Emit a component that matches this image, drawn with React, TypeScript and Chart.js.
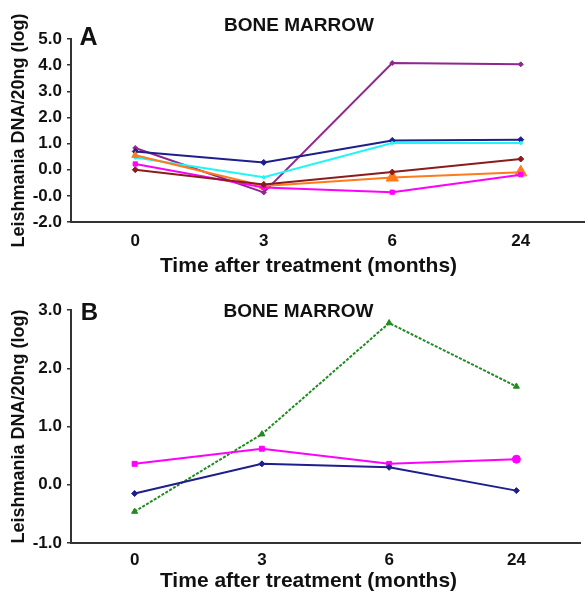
import React, { useEffect, useRef } from "react";
import { Chart, registerables } from "chart.js";

Chart.register(...registerables);

const categories = ["0", "3", "6", "24"];

// Panel A series
const purpleA = [0.83, -0.87, 4.08, 4.03];
const navyA = [0.7, 0.28, 1.12, 1.15];
const cyanA = [0.47, -0.29, 1.02, 1.02];
const brownA = [0.0, -0.57, -0.09, 0.41];
const orangeA = [0.55, -0.62, -0.3, -0.1];
const magentaA = [0.22, -0.68, -0.86, -0.19];

// Panel B series
const greenB = [-0.46, 0.87, 2.78, 1.69];
const magentaB = [0.36, 0.62, 0.36, 0.44];
const navyB = [-0.15, 0.36, 0.3, -0.1];

const yTickLabelsA = ["-2.0", "-0.0", "0.0", "1.0", "2.0", "3.0", "4.0", "5.0"];
const yTickLabelsB = ["-1.0", "0.0", "1.0", "2.0", "3.0"];

const yTitle = "Leishmania DNA/20ng (log)";
const xTitle = "Time after treatment (months)";
const panelTitle = "BONE MARROW";

const FONT = "'Liberation Sans', Arial, Helvetica, sans-serif";

const panelTextPlugin = {
  id: "panelText",
  afterDraw(chart: any, _args: any, opts: any) {
    const ctx = chart.ctx;
    ctx.save();
    ctx.fillStyle = "#111";
    ctx.textAlign = "center";
    ctx.textBaseline = "middle";
    ctx.font = `bold ${opts.letterSize}px ${FONT}`;
    ctx.fillText(opts.letter, opts.letterX, opts.letterY);
    ctx.font = `bold ${opts.titleSize}px ${FONT}`;
    ctx.fillText(opts.title, opts.titleX, opts.titleY);
    ctx.font = `bold 21px ${FONT}`;
    ctx.fillText(opts.xTitle, opts.xTitleX, opts.xTitleY);
    ctx.restore();
  },
};

type PanelCfg = {
  width: number;
  height: number;
  datasets: any[];
  yMin: number;
  yMax: number;
  yLabels: string[];
  top: number;
  right: number;
  plotBottom: number;
  xTickPad: number;
  text: any;
};

function makeConfig(p: PanelCfg): any {
  return {
    type: "line",
    data: { labels: categories, datasets: p.datasets },
    plugins: [panelTextPlugin],
    options: {
      animation: false,
      responsive: false,
      layout: { autoPadding: false, padding: { top: p.top, right: p.right, left: 0, bottom: 0 } },
      plugins: {
        legend: { display: false },
        tooltip: { enabled: false },
        title: { display: false },
        panelText: p.text,
      },
      scales: {
        x: {
          type: "category",
          offset: true,
          grid: { display: false, drawTicks: false },
          border: { display: true, color: "#333", width: 2 },
          ticks: {
            padding: p.xTickPad,
            color: "#111",
            font: { family: FONT, size: 17, weight: "bold" },
            maxRotation: 0,
          },
          title: { display: false },
          afterFit(scale: any) {
            scale.height = p.height - p.plotBottom;
          },
        },
        y: {
          type: "linear",
          min: p.yMin,
          max: p.yMax,
          grid: {
            display: true,
            drawOnChartArea: false,
            drawTicks: true,
            tickLength: 4,
            color: "#333",
            lineWidth: 1.5,
          },
          border: { display: true, color: "#333", width: 2 },
          ticks: {
            stepSize: 1,
            padding: 5,
            color: "#111",
            font: { family: FONT, size: 17, weight: "bold" },
            callback: (_v: any, i: number) => p.yLabels[i],
          },
          title: {
            display: true,
            text: yTitle,
            color: "#111",
            font: { family: FONT, size: 18, weight: "bold" },
            padding: { top: 8, bottom: 0 },
          },
          afterFit(scale: any) {
            scale.width = 71;
          },
        },
      },
    },
  };
}

function ds(label: string, data: number[], color: string, style: any, radius: any, extra: any = {}) {
  return {
    label,
    data,
    borderColor: color,
    backgroundColor: color,
    borderWidth: 2,
    pointStyle: style,
    pointRadius: radius,
    pointBorderWidth: 1,
    tension: 0,
    fill: false,
    ...extra,
  };
}

function Panel({ cfg }: { cfg: PanelCfg }) {
  const ref = useRef<HTMLCanvasElement | null>(null);
  useEffect(() => {
    if (!ref.current) return;
    const chart = new Chart(ref.current, makeConfig(cfg));
    return () => chart.destroy();
  }, []);
  return (
    <div style={{ width: cfg.width, height: cfg.height, position: "relative" }}>
      <canvas ref={ref} width={cfg.width} height={cfg.height} style={{ display: "block" }} />
    </div>
  );
}

export default function App() {
  const panelA: PanelCfg = {
    width: 585,
    height: 295,
    yMin: -2,
    yMax: 5,
    yLabels: yTickLabelsA,
    top: 39,
    right: 0,
    plotBottom: 222,
    xTickPad: 9,
    text: {
      letter: "A", letterSize: 25, letterX: 88.5, letterY: 38,
      title: panelTitle, titleSize: 19, titleX: 299, titleY: 26,
      xTitle, xTitleX: 308.5, xTitleY: 266.5,
    },
    datasets: [
      ds("s1", brownA, "#8B1C1C", "rectRot", 3),
      ds("s2", magentaA, "#FF00FF", "rect", 3),
      ds("s3", orangeA, "#FF7A1A", "triangle", [4, 5, 7, 7]),
      ds("s4", cyanA, "#22F5F5", "rectRot", 2),
      ds("s5", navyA, "#1E1E8C", "rectRot", 3),
      ds("s6", purpleA, "#8E278E", "rectRot", 2.5),
    ],
  };
  const panelB: PanelCfg = {
    width: 585,
    height: 304,
    yMin: -1,
    yMax: 3,
    yLabels: yTickLabelsB,
    top: 10.7,
    right: 5,
    plotBottom: 248,
    xTickPad: 7,
    text: {
      letter: "B", letterSize: 24, letterX: 89.5, letterY: 18.5,
      title: panelTitle, titleSize: 19, titleX: 298.5, titleY: 17,
      xTitle, xTitleX: 308.5, xTitleY: 286,
    },
    datasets: [
      ds("n", navyB, "#1E1E8C", "rectRot", 3),
      ds("m", magentaB, "#FF00FF", ["rect", "rect", "rect", "circle"], [3.5, 3.5, 3.5, 4]),
      ds("g", greenB, "#1F8C1F", "triangle", 3.5, { borderDash: [3, 1.5] }),
    ],
  };
  return (
    <div style={{ position: "fixed", left: 0, top: 0, width: 585, height: 599, background: "#fff" }}>
      <Panel cfg={panelA} />
      <Panel cfg={panelB} />
    </div>
  );
}
